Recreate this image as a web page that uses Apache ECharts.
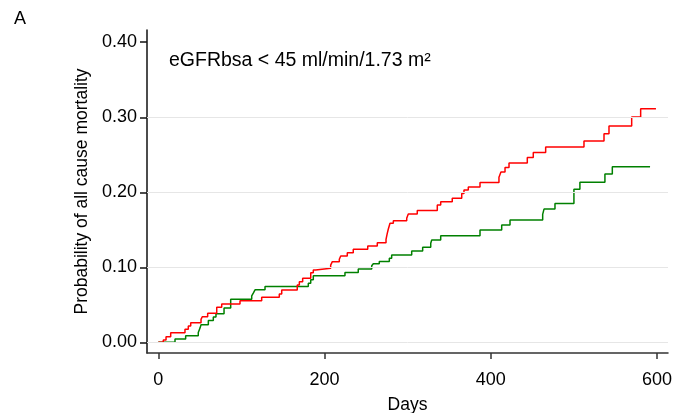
<!DOCTYPE html>
<html><head><meta charset="utf-8">
<script src="https://cdn.jsdelivr.net/npm/echarts@6/dist/echarts.min.js"></script>
<style>html,body{margin:0;padding:0;background:#fff}#c{width:675px;height:413px}</style>
</head><body><div id="c"></div>
<script>
// Red group: [day, cumulative probability]
const redDays = [0, 6.0, 9.3, 14.9, 32.1, 36.1, 39, 51.4, 52.9, 59.4, 70.3, 76.3, 98.3, 124.4, 145.6, 148.5, 167.2, 169.7, 173.7, 183.4, 186.5, 189.4, 207.4, 209.4, 217.8, 219.5, 227.4, 234.6, 252, 263.5, 274, 275.5, 276.7, 278.8, 282.8, 298.9, 300.8, 311.6, 335.7, 339.8, 353.7, 365.1, 367.8, 373, 387.1, 409.9, 412.3, 417.2, 422, 444, 451.2, 466.1, 512.2, 536.3, 542.3, 569.6, 580.4, 598.8];
const redProb = [0, 0.003, 0.0075, 0.0128, 0.0173, 0.0217, 0.0261, 0.0307, 0.0341, 0.0387, 0.0467, 0.0511, 0.0555, 0.060, 0.0644, 0.0697, 0.0764, 0.0808, 0.0853, 0.0928, 0.0964, 0.0987, 0.103, 0.1075, 0.1107, 0.115, 0.1195, 0.124, 0.1284, 0.1328, 0.1373, 0.1453, 0.1507, 0.1587, 0.1621, 0.1653, 0.171, 0.1758, 0.183, 0.1875, 0.192, 0.1985, 0.203, 0.207, 0.213, 0.220, 0.227, 0.233, 0.239, 0.2463, 0.253, 0.2605, 0.2685, 0.278, 0.2885, 0.3005, 0.3115, 0.3115];
// Green group
const greenDays = [0, 20.1, 32.9, 48.1, 50.2, 51.4, 60.2, 66.2, 69.4, 79.1, 87.1, 112.4, 114.3, 116.4, 128.4, 180.5, 183.4, 186.5, 224.6, 240.6, 256.8, 258.7, 265.9, 278, 280.8, 304.9, 318.1, 327.8, 329, 339.8, 387.1, 413.2, 423.2, 462.5, 464.1, 477.3, 500.1, 507.3, 537.4, 546.3, 591.7];
const greenProb = [0, 0.0044, 0.0088, 0.0132, 0.019, 0.0235, 0.0292, 0.0337, 0.0381, 0.0457, 0.0576, 0.062, 0.0656, 0.070, 0.0745, 0.0789, 0.0834, 0.0887, 0.0931, 0.0976, 0.102, 0.1047, 0.1077, 0.112, 0.1165, 0.1218, 0.1267, 0.132, 0.1364, 0.142, 0.1496, 0.1563, 0.163, 0.1706, 0.1776, 0.1852, 0.2039, 0.2133, 0.2245, 0.2341, 0.2341];
const xTicks = [0, 200, 400, 600];
const yTicks = [0, 0.1, 0.2, 0.3, 0.4];
const gridYs = [0, 0.1, 0.2, 0.3];
const panelLabel = 'A';
const subtitle = 'eGFRbsa < 45 ml/min/1.73 m²';
const xTitle = 'Days';
const yTitle = 'Probability of all cause mortality';

const FONT = '"Liberation Sans", Arial, sans-serif';
const zip = (a, b) => a.map((v, i) => [v, b[i]]);

const chart = echarts.init(document.getElementById('c'), null, {renderer: 'canvas'});
chart.setOption({
  animation: false,
  backgroundColor: '#fff',
  textStyle: {fontFamily: FONT},
  title: [
    {text: panelLabel, left: 9, top: 5, textStyle: {fontSize: 18, fontWeight: 'normal', color: '#000', fontFamily: FONT}},
    {text: subtitle, left: 164, top: 46, textStyle: {fontSize: 19.5, fontWeight: 'normal', color: '#000', fontFamily: FONT}}
  ],
  grid: {left: 147, right: 7, top: 30, bottom: 60, containLabel: false, outerBoundsMode: 'none'},
  xAxis: {
    type: 'value', min: -13.6, max: 613.3,
    name: xTitle, nameLocation: 'middle', nameGap: 43,
    nameTextStyle: {fontSize: 17.5, color: '#000', fontFamily: FONT},
    axisLine: {show: true, onZero: false, lineStyle: {color: '#333', width: 1.5}},
    axisTick: {show: true, length: 6, lineStyle: {color: '#333', width: 1.5}, customValues: xTicks},
    axisLabel: {fontSize: 18, color: '#000', margin: 18, customValues: xTicks, fontFamily: FONT},
    splitLine: {show: false}
  },
  yAxis: {
    type: 'value', min: -0.0142, max: 0.4163,
    name: yTitle, nameLocation: 'middle', nameGap: 55, nameRotate: 90,
    nameTextStyle: {fontSize: 17.5, color: '#000', fontFamily: FONT},
    axisLine: {show: true, onZero: false, lineStyle: {color: '#111', width: 1.5}},
    axisTick: {show: true, length: 7, lineStyle: {color: '#111', width: 1.5}, customValues: yTicks},
    axisLabel: {fontSize: 18, color: '#000', margin: 10, customValues: yTicks, fontFamily: FONT,
      formatter: v => v.toFixed(2)},
    splitLine: {show: false}
  },
  series: [
    {
      type: 'line', data: [], silent: true,
      markLine: {silent: true, symbol: 'none', label: {show: false},
        lineStyle: {color: '#e6e6e6', width: 1, type: 'solid'},
        data: gridYs.map(v => ({yAxis: v}))}
    },
    {
      type: 'line', step: 'end', showSymbol: false, data: zip(greenDays, greenProb),
      lineStyle: {color: '#008000', width: 1.5}, itemStyle: {color: '#008000'}
    },
    {
      type: 'line', step: 'end', showSymbol: false, data: zip(redDays, redProb),
      lineStyle: {color: '#ff0000', width: 1.5}, itemStyle: {color: '#ff0000'}
    }
  ]
});
</script></body></html>
